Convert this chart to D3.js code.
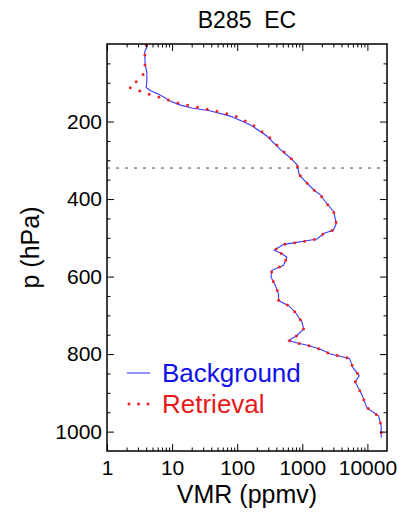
<!DOCTYPE html>
<html>
<head>
<meta charset="utf-8">
<script src="https://cdnjs.cloudflare.com/ajax/libs/d3/7.8.5/d3.min.js"></script>
<style>
  html, body { margin: 0; padding: 0; background: #fff; }
  text { font-family: "Liberation Sans", Arial, Helvetica, sans-serif; }
</style>
</head>
<body>
<div id="chart"></div>
<script>
// data: pressure levels (hPa) and water vapour VMR (ppmv)
var pressure = [3, 20, 50, 75, 95, 112, 120, 130, 140, 148, 157, 165, 172, 186, 208, 238, 272, 294, 311,
  322, 337, 350, 376, 389, 407, 432, 463, 480, 489, 503, 509, 513, 517, 532, 541, 550, 571, 584, 601,
  623, 645, 662, 675, 692, 718, 735, 752, 765, 772, 778, 789, 800, 811, 835, 856, 872, 904, 938, 960,
  986, 1016];
var background = [4.2, 3.8, 3.85, 4.1, 4.1, 4.0, 4.6, 6.3, 8.0, 9.5, 13, 20, 38, 78, 158, 288, 458, 656, 830,
  860, 900, 1050, 1490, 1890, 2260, 3020, 3330, 3020, 2130, 1680, 1050, 735, 515, 371, 487, 580, 515, 341, 330,
  385, 432, 432, 616, 780, 990, 1050, 830, 616, 870, 1250, 1990, 2700, 5300, 6000, 7500, 6500, 8200, 9800, 14900,
  16300, 16300];
var retrieval = [4.0, 3.8, 3.85, 3.75, 2.9, 2.2, 3.0, 4.5, 7.5, 10, 16, 28, 45, 95, 170, 300, 480, 660, 830,
  860, 900, 1050, 1490, 1890, 2260, 3020, 3330, 3020, 2130, 1680, 1050, 735, 515, 371, 487, 580, 515, 341, 330,
  385, 432, 432, 616, 780, 990, 1050, 830, 616, 870, 1250, 1990, 2700, 5300, 6000, 7500, 6500, 8200, 9800, 14900,
  16300, 16300];
var xMajor = [1, 10, 100, 1000, 10000];
var xLabels = ["1", "10", "100", "1000", "10000"];
var yMajor = [200, 400, 600, 800, 1000];
var yLabels = ["200", "400", "600", "800", "1000"];
var tropopause = 320;
var seriesNames = ["Background", "Retrieval"];

var W = 402, H = 513;
var frame = {left: 107, right: 387, top: 44, bottom: 451};

var svg = d3.select("#chart").append("svg")
  .attr("width", W).attr("height", H);

var x = d3.scaleLog().domain([1, 20000]).range([frame.left, frame.right]);
var y = d3.scaleLinear().domain([0, 1050]).range([frame.top, frame.bottom]);

// title
svg.append("text")
  .attr("x", (frame.left + frame.right) / 2).attr("y", 28)
  .attr("text-anchor", "middle").attr("font-size", "23px")
  .style("white-space", "pre")
  .text("B285  EC");

// dashed line at the tropopause level
svg.append("line")
  .attr("x1", frame.left).attr("x2", frame.right)
  .attr("y1", y(tropopause)).attr("y2", y(tropopause))
  .attr("stroke", "#444").attr("stroke-width", 1)
  .attr("stroke-dasharray", "3,6");

// profiles
var line = d3.line()
  .x(function(d) { return x(d[1]); })
  .y(function(d) { return y(d[0]); });

svg.append("path")
  .datum(d3.zip(pressure, background))
  .attr("d", line)
  .attr("fill", "none").attr("stroke", "#3a3aff").attr("stroke-width", 1.1);

svg.append("path")
  .datum(d3.zip(pressure, retrieval))
  .attr("d", line)
  .attr("fill", "none").attr("stroke", "#ee2222").attr("stroke-width", 3)
  .attr("stroke-linecap", "round")
  .attr("stroke-dasharray", "0,10");

// axes, ticks pointing inward on all four sides
var xMinor = x.ticks().filter(function(v) { return xMajor.indexOf(v) < 0 && v < 20000; });
var yMinor = d3.range(50, 1050, 50).filter(function(v) { return yMajor.indexOf(v) < 0; });

function styleAxis(g) {
  g.select(".domain").remove();
  g.selectAll(".tick line").attr("stroke", "#000").attr("stroke-width", 1);
  g.selectAll(".tick text").attr("font-size", "21px").attr("fill", "#000")
    .attr("font-family", "Liberation Sans, Arial, sans-serif");
}

svg.append("g").attr("transform", `translate(0, ${frame.bottom})`)
  .call(d3.axisBottom(x).tickValues(xMajor).tickSize(-7).tickPadding(9)
    .tickFormat(function(d, i) { return xLabels[i]; }))
  .call(styleAxis);
svg.append("g").attr("transform", `translate(0, ${frame.bottom})`)
  .call(d3.axisBottom(x).tickValues(xMinor).tickSize(-3.5).tickFormat(""))
  .call(styleAxis);
svg.append("g").attr("transform", `translate(0, ${frame.top})`)
  .call(d3.axisTop(x).tickValues(xMajor).tickSize(-7).tickFormat(""))
  .call(styleAxis);
svg.append("g").attr("transform", `translate(0, ${frame.top})`)
  .call(d3.axisTop(x).tickValues(xMinor).tickSize(-3.5).tickFormat(""))
  .call(styleAxis);

svg.append("g").attr("transform", `translate(${frame.left}, 0)`)
  .call(d3.axisLeft(y).tickValues(yMajor).tickSize(-7).tickPadding(5)
    .tickFormat(function(d, i) { return yLabels[i]; }))
  .call(styleAxis);
svg.append("g").attr("transform", `translate(${frame.left}, 0)`)
  .call(d3.axisLeft(y).tickValues(yMinor).tickSize(-3.5).tickFormat(""))
  .call(styleAxis);
svg.append("g").attr("transform", `translate(${frame.right}, 0)`)
  .call(d3.axisRight(y).tickValues(yMajor).tickSize(-7).tickFormat(""))
  .call(styleAxis);
svg.append("g").attr("transform", `translate(${frame.right}, 0)`)
  .call(d3.axisRight(y).tickValues(yMinor).tickSize(-3.5).tickFormat(""))
  .call(styleAxis);

// frame
svg.append("rect")
  .attr("x", frame.left).attr("y", frame.top)
  .attr("width", frame.right - frame.left).attr("height", frame.bottom - frame.top)
  .attr("fill", "none").attr("stroke", "#000").attr("stroke-width", 1.5);

// axis titles
svg.append("text")
  .attr("x", (frame.left + frame.right) / 2).attr("y", 503)
  .attr("text-anchor", "middle").attr("font-size", "25px")
  .text("VMR (ppmv)");
svg.append("text")
  .attr("transform", `translate(39, ${(frame.top + frame.bottom) / 2}) rotate(-90)`)
  .attr("text-anchor", "middle").attr("font-size", "25px")
  .text("p (hPa)");

// legend
var legend = svg.append("g");
legend.append("line")
  .attr("x1", 127).attr("x2", 150).attr("y1", 373).attr("y2", 373)
  .attr("stroke", "#3a3aff").attr("stroke-width", 1.1);
legend.append("line")
  .attr("x1", 129).attr("x2", 150).attr("y1", 404).attr("y2", 404)
  .attr("stroke", "#ee2222").attr("stroke-width", 3)
  .attr("stroke-linecap", "round").attr("stroke-dasharray", "0,9.5");
legend.append("text")
  .attr("x", 162).attr("y", 382).attr("font-size", "26px").attr("fill", "#1010ee")
  .text(seriesNames[0]);
legend.append("text")
  .attr("x", 162).attr("y", 413).attr("font-size", "26px").attr("fill", "#e81818")
  .text(seriesNames[1]);
</script>
</body>
</html>
